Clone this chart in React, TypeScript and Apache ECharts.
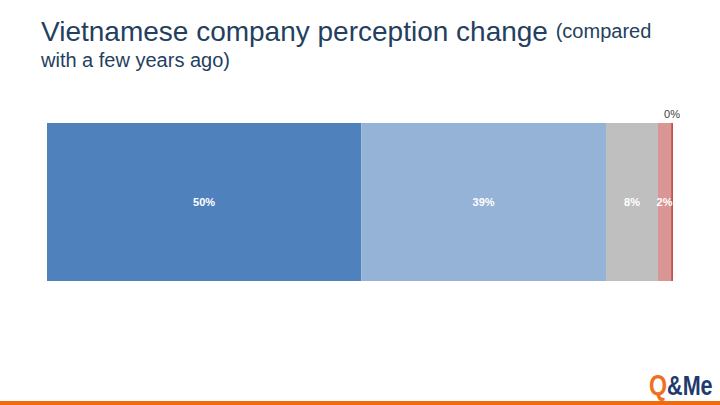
import React, { useEffect, useRef } from "react";
import * as echarts from "echarts";

const categories = ["Perception"];
const seriesNames = ["Much better", "Better", "Same", "Worse", "Much worse"];
const seriesValues = [50.2, 39.1, 8.3, 2.1, 0.3];
const seriesColors = ["#4F81BD", "#95B3D7", "#BFBFBF", "#D99694", "#C0504D"];

export default function App() {
  const ref = useRef<HTMLDivElement>(null);
  useEffect(() => {
    const chart = echarts.init(ref.current!, null, { renderer: "svg" });
    const font = "Liberation Sans, Arial, sans-serif";
    chart.setOption({
      animation: false,
      backgroundColor: "#ffffff",
      title: {
        left: 41,
        top: 16,
        padding: 0,
        text: "{a|Vietnamese company perception change }{b|(compared}\n{b|with a few years ago)}",
        textStyle: {
          fontWeight: "normal",
          rich: {
            a: { fontSize: 28, color: "#243F60", fontFamily: font, fontWeight: "normal", lineHeight: 30 },
            b: { fontSize: 20, color: "#243F60", fontFamily: font, fontWeight: "normal", lineHeight: 28 },
          },
        },
      },
      grid: { left: 47, right: 47, top: 123, height: 158 },
      xAxis: { type: "value", min: 0, max: 100, show: false },
      yAxis: { type: "category", data: categories, show: false },
      series: seriesNames.map((name, i) => ({
        name,
        type: "bar",
        stack: "total",
        barWidth: "100%",
        data: [seriesValues[i]],
        itemStyle: { color: seriesColors[i] },
        label: {
          show: true,
          position: i === seriesNames.length - 1 ? "top" : "inside",
          distance: 4,
          color: i === seriesNames.length - 1 ? "#404040" : "#ffffff",
          fontWeight: i === seriesNames.length - 1 ? "normal" : "bold",
          fontSize: 11,
          fontFamily: font,
          formatter: (p: any) => Math.round(p.value) + "%",
        },
      })),
      graphic: [
        { type: "rect", shape: { x: 0, y: 401, width: 720, height: 4 }, style: { fill: "#F26A10" } },
        {
          type: "text",
          x: 649,
          y: 371,
          scaleX: 0.8,
          style: {
            text: "{q|Q}{m|&Me}",
            rich: {
              q: { fontSize: 29, fontWeight: "bold", fill: "#F07020", fontFamily: font },
              m: { fontSize: 27, fontWeight: "bold", fill: "#1F3B6E", fontFamily: font },
            },
          },
        },
      ],
    });
    return () => chart.dispose();
  }, []);
  return <div ref={ref} style={{ width: 720, height: 405, position: "absolute", left: 0, top: 0 }} />;
}
